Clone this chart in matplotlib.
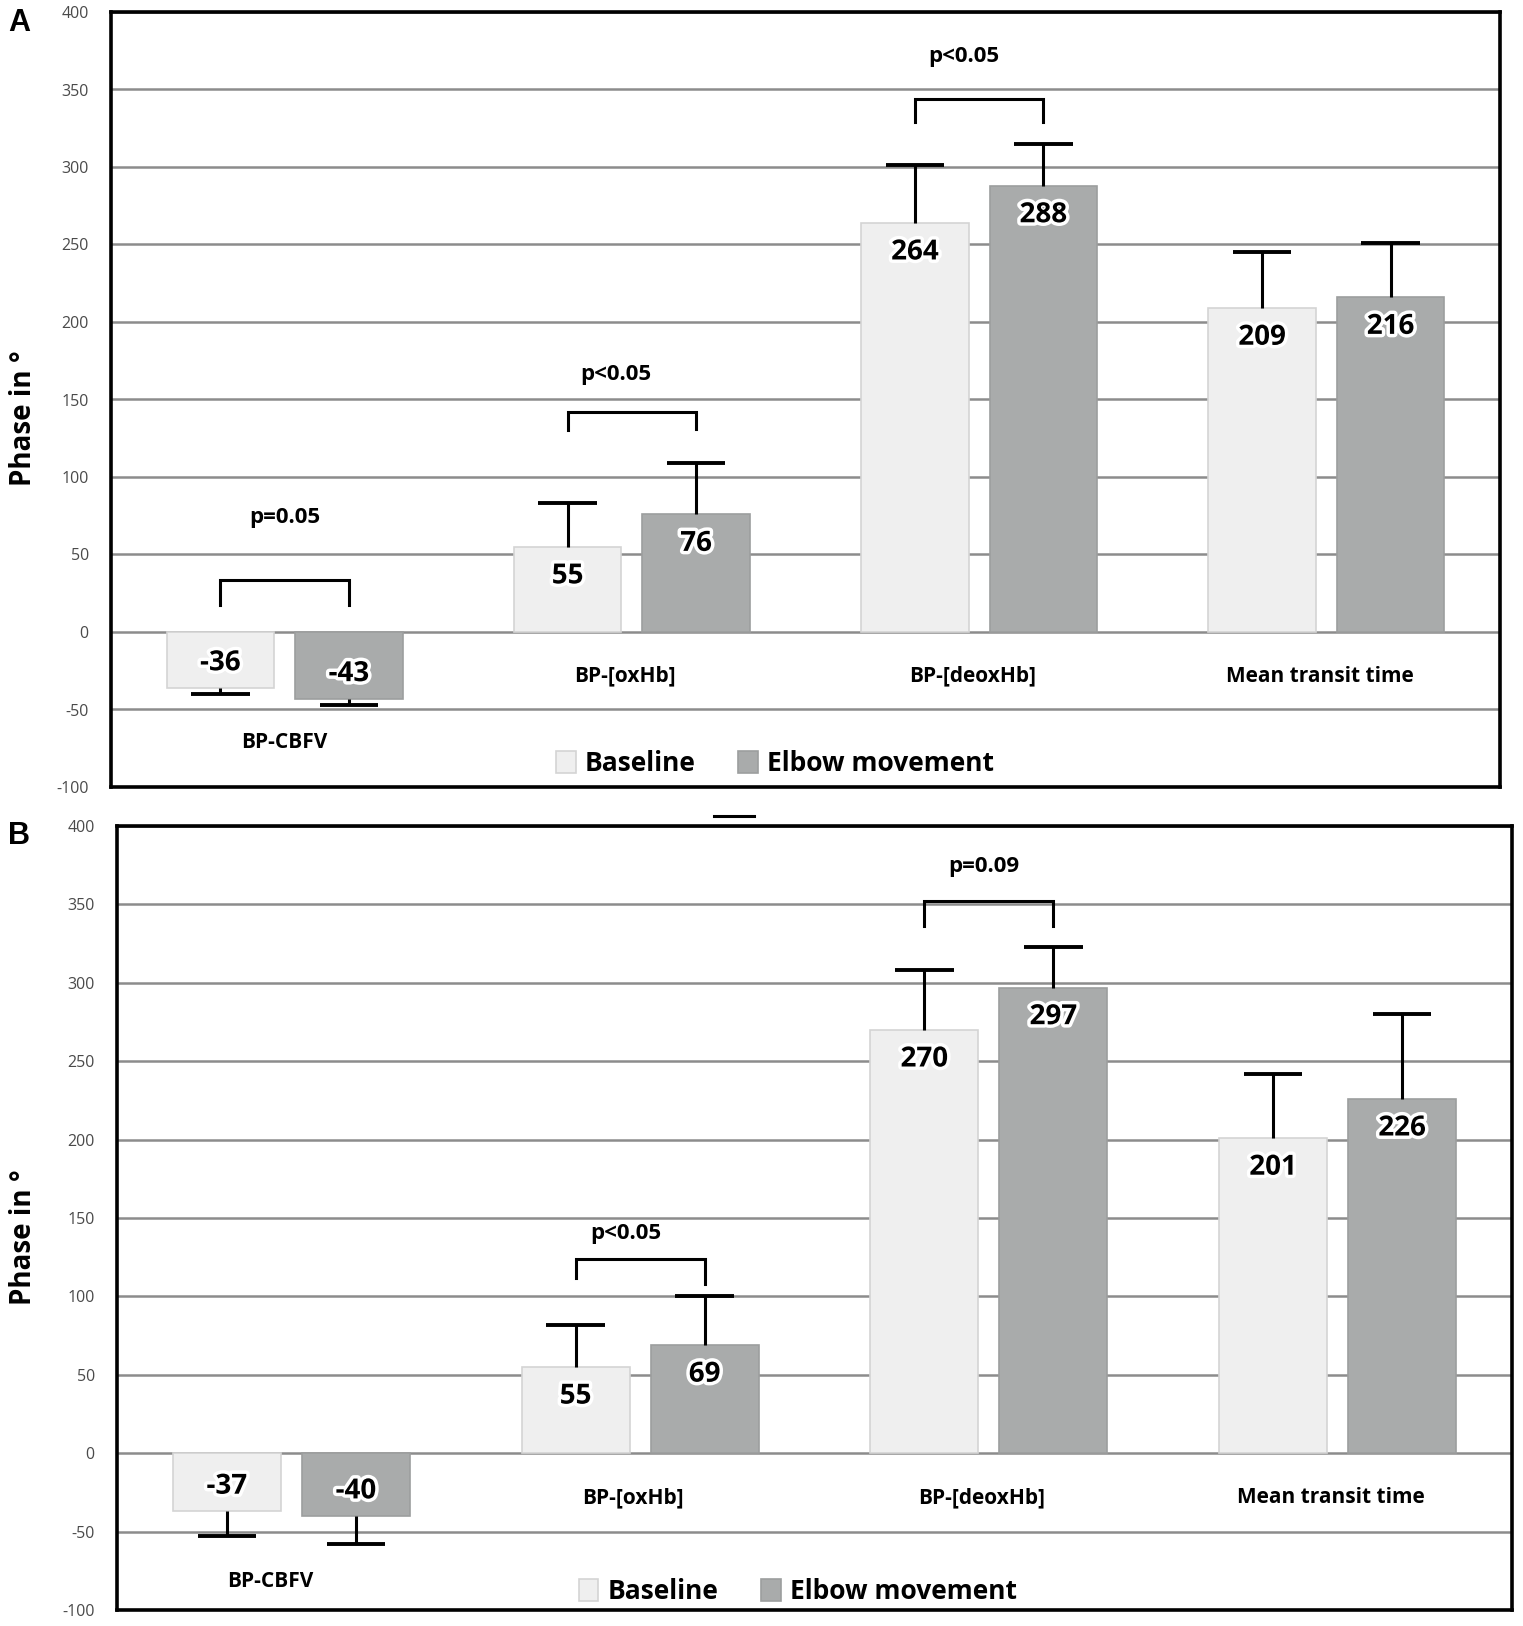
"""Phase of BP oscillations, baseline vs elbow movement (panels A and B)."""

import matplotlib
matplotlib.use("Agg")
import matplotlib.pyplot as plt
import matplotlib.patheffects as pe
from matplotlib.lines import Line2D
import numpy as np

plt.rcParams.update({
    "font.family": ["Open Sans", "DejaVu Sans"],
    "axes.unicode_minus": False,
})

CATEGORIES = ["BP-CBFV", "BP-[oxHb]", "BP-[deoxHb]", "Mean transit time"]
SERIES = ["Baseline", "Elbow movement"]

# panel A
A_BASE = [-36, 55, 264, 209]
A_BASE_ERR = [4, 28, 37, 36]
A_ELBOW = [-43, 76, 288, 216]
A_ELBOW_ERR = [4, 33, 27, 35]

# panel B
B_BASE = [-37, 55, 270, 201]
B_BASE_ERR = [16, 27, 38, 41]
B_ELBOW = [-40, 69, 297, 226]
B_ELBOW_ERR = [18, 31, 26, 54]

# significance brackets: label, category, bracket y, left leg end, right leg end, text y, text dx
A_PVALS = [("p=0.05", 0, 33.5, 17.5, 17.5, 74, 0.0),
           ("p<0.05", 1, 142, 130, 131, 166, -0.045),
           ("p<0.05", 2, 344, 329, 329, 371, -0.045)]
B_PVALS = [("p<0.05", 1, 124, 112, 108, 140, -0.04),
           ("p=0.09", 2, 352, 336, 336, 374, -0.015)]

COLORS = {"Baseline": "#efefef", "Elbow movement": "#a9abab"}
EDGES = {"Baseline": "#d4d4d4", "Elbow movement": "#9c9e9e"}

W, H = 1523, 1626
OFF, BAR_W, CAP = 0.185, 0.31, 0.084


def draw_panel(ax, base, base_err, elbow, elbow_err, cbfv_xy, pvals, legend_xy, ylab_x):
    x = np.arange(len(CATEGORIES))
    for name, vals, errs, side in ((SERIES[0], base, base_err, -1),
                                   (SERIES[1], elbow, elbow_err, 1)):
        xs = x + side * OFF
        vals = np.asarray(vals, dtype=float)
        errs = np.asarray(errs, dtype=float)
        ax.bar(xs, vals, BAR_W, color=COLORS[name], edgecolor=EDGES[name],
               lw=1.2, label=name, zorder=2)
        ends = vals + np.sign(vals) * errs
        ax.vlines(xs, vals, ends, color="black", lw=2.2, zorder=3)
        ax.hlines(ends, xs - CAP, xs + CAP, color="black", lw=2.8, zorder=3)
        for xi, v in zip(xs, vals):
            dy = -21 if v >= 0 else 18
            ax.annotate(f"{int(v)}", (xi, v), xytext=(0, dy), textcoords="offset points",
                        ha="center", va="center", fontsize=20, fontweight="bold", zorder=4,
                        path_effects=[pe.withStroke(linewidth=5, foreground="white")])

    for i, cat in enumerate(CATEGORIES):
        cx, cy = cbfv_xy if i == 0 else (i - 0.02, -28.5)
        ax.text(cx, cy, cat, ha="center", va="center", fontsize=15, fontweight="bold")

    for label, i, top, leg_l, leg_r, ty, dx in pvals:
        x0, x1 = i - OFF, i + OFF
        ax.plot([x0, x0, x1, x1], [leg_l, top, top, leg_r], color="black", lw=2.2,
                solid_joinstyle="miter", zorder=3)
        ax.text(i + dx, ty, label, ha="center", va="center", fontsize=16, fontweight="bold")

    ax.set_xlim(-0.5, 3.5)
    ax.set_ylim(-100, 400)
    ax.set_yticks(range(-100, 401, 50))
    ax.set_xticks([])
    ax.yaxis.grid(True, color="#8c8c8c", lw=1.8)
    ax.set_axisbelow(True)
    ax.tick_params(axis="y", length=0, pad=16, labelsize=11.5, labelcolor="#4a4a4a")
    for sp in ax.spines.values():
        sp.set_linewidth(2.6)
        sp.set_color("black")
    ax.set_ylabel("Phase in °", fontsize=20, fontweight="bold")
    ax.yaxis.set_label_coords(ylab_x, 0.476)
    ax.legend(loc="center", bbox_to_anchor=legend_xy, ncol=2, frameon=False,
              prop={"size": 19, "weight": "bold"}, handlelength=0.75, handleheight=0.9,
              handletextpad=0.35, columnspacing=1.6, borderaxespad=0)


fig = plt.figure(figsize=(W / 100, H / 100), dpi=100)
ax_a = fig.add_axes([111 / W, 1 - 787 / H, 1389 / W, 775 / H])
ax_b = fig.add_axes([117 / W, 1 - 1610 / H, 1395 / W, 784 / H])

draw_panel(ax_a, A_BASE, A_BASE_ERR, A_ELBOW, A_ELBOW_ERR, (0.0, -71.5), A_PVALS,
           (0.478, 0.030), -0.0526)
draw_panel(ax_b, B_BASE, B_BASE_ERR, B_ELBOW, B_ELBOW_ERR, (-0.06, -82), B_PVALS,
           (0.488, 0.024), -0.0566)

fig.text(8 / W, 1 - 8 / H, "A", ha="left", va="top", fontsize=22, fontweight="bold",
         family=["Liberation Sans", "DejaVu Sans"])
fig.text(8 / W, 1 - 821 / H, "B", ha="left", va="top", fontsize=22, fontweight="bold",
         family=["Liberation Sans", "DejaVu Sans"])
fig.add_artist(Line2D([714 / W, 754 / W], [1 - 816 / H] * 2, color="black", lw=2.2))

fig.savefig("out.png", dpi=100)
